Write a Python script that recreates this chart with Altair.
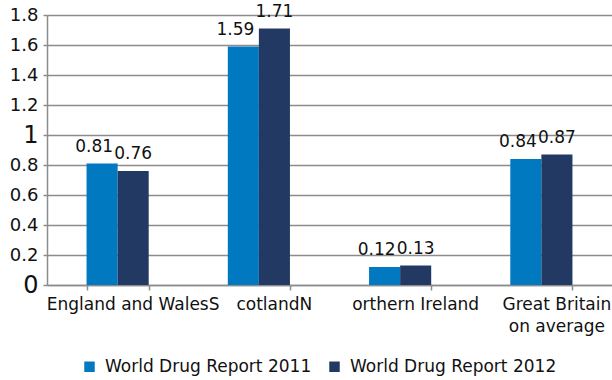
import altair as alt
import pandas as pd

# Category labels as printed under each group
categories = ["England and WalesS", "cotlandN", "orthern Ireland", "Great Britain\non average"]
series = ["World Drug Report 2011", "World Drug Report 2012"]
values_2011 = [0.81, 1.59, 0.12, 0.84]
values_2012 = [0.76, 1.71, 0.13, 0.87]
colors = ["#0079C1", "#223A63"]
y_ticks = [0, 0.2, 0.4, 0.6, 0.8, 1, 1.2, 1.4, 1.6, 1.8]

rows = []
for cat, a, b in zip(categories, values_2011, values_2012):
    rows.append({"region": cat, "report": series[0], "value": a, "label": f"{a:.2f}"})
    rows.append({"region": cat, "report": series[1], "value": b, "label": f"{b:.2f}"})
df = pd.DataFrame(rows)

FONT = "DejaVu Sans"
GRID = "#8c8c8c"

x_enc = alt.X(
    "region:N",
    sort=categories,
    title=None,
    scale=alt.Scale(paddingInner=0.56, paddingOuter=0.28),
    axis=alt.Axis(
        labelAngle=0,
        labelFont=FONT,
        labelFontSize=17,
        labelColor="#111111",
        labelExpr="split(datum.label, '\\n')",
        labelLineHeight=22,
        labelOffset=15,
        labelPadding=6,
        labelLimit=300,
        labelOverlap=False,
        tickBand="extent",
        tickSize=5,
        tickColor=GRID,
        tickWidth=1.5,
        domainColor=GRID,
        domainWidth=1.5,
        grid=False,
    ),
)

y_enc = alt.Y(
    "value:Q",
    title=None,
    scale=alt.Scale(domain=[0, 1.8], nice=False),
    axis=alt.Axis(
        values=y_ticks,
        tickCount=len(y_ticks),
        format=".1~f",
        labelFont=FONT,
        labelFontSize={"condition": {"test": "datum.value == 0 || datum.value == 1", "value": 24}, "value": 18},
        labelColor="#111111",
        labelPadding=5,
        labelOverlap=False,
        tickSize=4,
        tickColor=GRID,
        tickWidth=1.5,
        domainColor=GRID,
        domainWidth=1.5,
        gridColor=GRID,
        gridWidth=1.5,
    ),
)

color_enc = alt.Color(
    "report:N",
    scale=alt.Scale(domain=series, range=colors),
    legend=alt.Legend(
        title=None,
        orient="none",
        direction="horizontal",
        legendX=34,
        legendY=343,
        symbolType="square",
        symbolSize=110,
        symbolStrokeWidth=0,
        labelFont=FONT,
        labelFontSize=17,
        labelColor="#111111",
        labelOffset=7,
        columnPadding=14,
        labelLimit=400,
    ),
)

base = alt.Chart(df)

bars = base.mark_bar().encode(
    x=x_enc,
    xOffset=alt.XOffset("report:N", sort=series, scale=alt.Scale(paddingInner=0, paddingOuter=0)),
    y=y_enc,
    color=color_enc,
)

def value_labels(report, dx):
    return (
        base.transform_filter(alt.datum.report == report)
        .mark_text(font=FONT, fontSize=17, color="#111111", baseline="alphabetic", dy=-12, dx=dx)
        .encode(
            x=alt.X("region:N", sort=categories),
            xOffset=alt.XOffset("report:N", sort=series),
            y="value:Q",
            text="label:N",
        )
    )

chart = (
    alt.layer(bars, value_labels(series[0], -8), value_labels(series[1], 0))
    .properties(
        width=565,
        height=270,
        autosize=alt.AutoSizeParams(type="none"),
        padding={"left": 47, "top": 15, "right": 0, "bottom": 95},
    )
    .configure_view(stroke=None)
    .configure(background="white")
)

chart.save("out.html", embed_options={"renderer": "svg", "actions": False})
